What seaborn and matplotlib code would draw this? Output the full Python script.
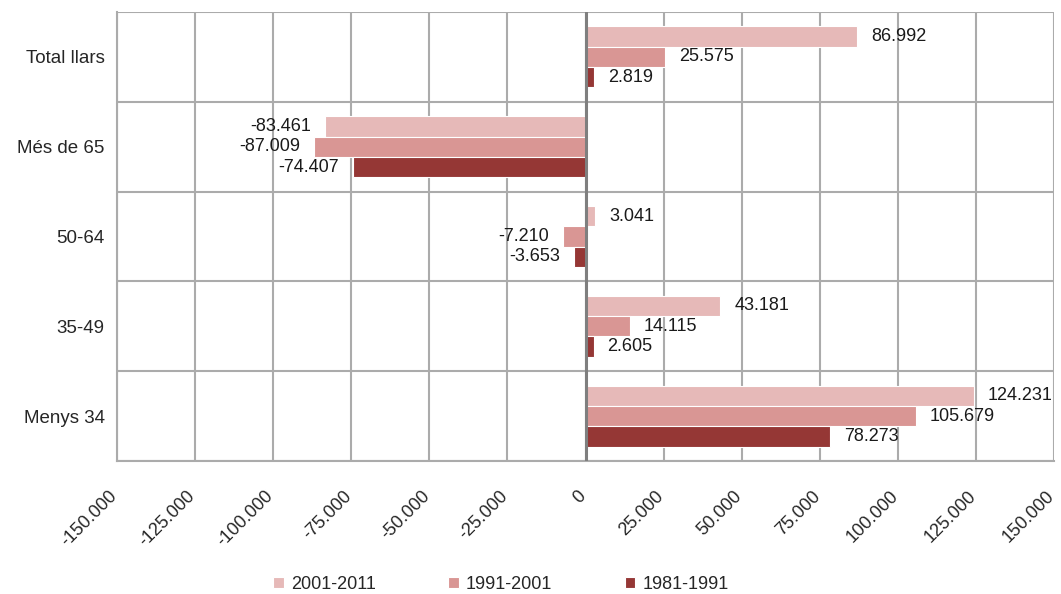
import pandas as pd
import numpy as np
import seaborn as sns
import matplotlib.pyplot as plt
import matplotlib.transforms as mtransforms
from matplotlib.ticker import FuncFormatter, MultipleLocator

# Data
categories = ["Total llars", "Més de 65", "50-64", "35-49", "Menys 34"]
periods = ["2001-2011", "1991-2001", "1981-1991"]
v_2001_2011 = [86992, -83461, 3041, 43181, 124231]
v_1991_2001 = [25575, -87009, -7210, 14115, 105679]
v_1981_1991 = [2819, -74407, -3653, 2605, 78273]

colors = ["#E6B9B8", "#D99694", "#953735"]

df = pd.DataFrame({
    "grup": categories * 3,
    "periode": [p for p in periods for _ in categories],
    "valor": v_2001_2011 + v_1991_2001 + v_1981_1991,
})

sns.set_style("white")
plt.rcParams["font.family"] = ["Liberation Sans", "DejaVu Sans"]
FS = 13


def dotfmt(v):
    return f"{v:,.0f}".replace(",", ".")


fig = plt.figure(figsize=(10.61, 5.94), dpi=100)
ax = fig.add_axes([117 / 1061, 133 / 594, 937 / 1061, 449 / 594])

sns.barplot(
    data=df, y="grup", x="valor", hue="periode", order=categories,
    hue_order=periods, palette=colors, saturation=1, orient="h", width=0.68,
    edgecolor="white", linewidth=0.8, ax=ax, legend=True,
)

for cont, vals in zip(ax.containers, [v_2001_2011, v_1991_2001, v_1981_1991]):
    ax.bar_label(cont, labels=[dotfmt(v) for v in vals], padding=10,
                 fontsize=FS, color="#1a1a1a")

ax.set_xlim(-150000, 150000)
ax.set_ylim(4.5, -0.5)
ax.xaxis.set_major_locator(MultipleLocator(25000))
ax.xaxis.set_major_formatter(FuncFormatter(lambda v, p: dotfmt(v)))
ax.set_yticks(range(len(categories)))
ax.set_yticklabels(categories)
ax.set_yticks(np.arange(-0.5, 5, 1), minor=True)
ax.set_xlabel("")
ax.set_ylabel("")

grid_c = "#ABABAB"
ax.grid(False)
ax.grid(axis="x", which="major", color=grid_c, linewidth=1.5, zorder=0)
ax.grid(axis="y", which="minor", color=grid_c, linewidth=1.5, zorder=0)
ax.set_axisbelow(True)
ax.axvline(0, color="#7F7F7F", linewidth=2.2, zorder=3)

for side in ["top", "right"]:
    ax.spines[side].set_visible(False)
for side in ["left", "bottom"]:
    ax.spines[side].set_color(grid_c)
    ax.spines[side].set_linewidth(1.5)

ax.tick_params(axis="x", which="major", direction="out", length=6, width=1.5,
               color=grid_c, labelsize=FS, pad=13)
ax.tick_params(axis="y", which="major", length=0, labelsize=FS + 0.5, pad=9)
ax.tick_params(axis="y", which="minor", direction="out", length=6, width=1.5,
               color=grid_c)

# rotated tick labels, nudged left so the last one fits in the figure
shift = mtransforms.ScaledTranslation(-6 / 72, 0, fig.dpi_scale_trans)
for lbl in ax.get_xticklabels():
    lbl.set_rotation(45)
    lbl.set_ha("right")
    lbl.set_va("top")
    lbl.set_rotation_mode("anchor")
    lbl.set_transform(lbl.get_transform() + shift)

handles, labels = ax.get_legend_handles_labels()
ax.legend_.remove()
fig.legend(handles, labels, loc="lower center", bbox_to_anchor=(0.472, -0.025),
           ncol=3, frameon=False, fontsize=FS, handlelength=0.6,
           handleheight=0.6, handletextpad=0.4, columnspacing=4.0)

fig.savefig("out.png", dpi=100)
plt.close(fig)
